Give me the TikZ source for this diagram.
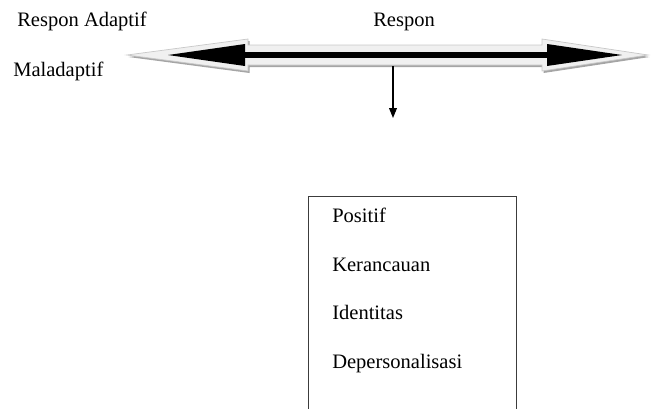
\documentclass[tikz,border=0pt]{standalone}
\usepackage{fontspec}
\setmainfont{Liberation Serif}
\usepackage{tikz}
\usetikzlibrary{arrows.meta, positioning, calc}
\definecolor{shaftgray}{RGB}{240, 240, 240}
\definecolor{edgegray}{RGB}{200, 200, 200}
\definecolor{shadowgray}{RGB}{165, 165, 165}
\definecolor{boxline}{RGB}{60, 60, 60}

\begin{document}
\begin{tikzpicture}[x=0.025cm, y=-0.025cm,
    lbl/.style={anchor=base west, inner sep=0pt, font=\fontsize{14.6}{17}\selectfont}]
  \useasboundingbox (0,0) rectangle (656,408);

  % Labels above the arrow
  \node[lbl] (adaptif) at (17,26) {Respon Adaptif};
  \node[lbl] (respon) at (373,26) {Respon};
  \node[lbl] (maladaptif) at (13,76) {Maladaptif};

  % Outer arrow (shadow, then body)
  \fill[shadowgray, shift={(1.5,2)}] (127,55) -- (248,39) -- (248,45) -- (542,45) -- (542,39) -- (648,55)
    -- (542,71) -- (542,65) -- (248,65) -- (248,71) -- cycle;
  \filldraw[fill=shaftgray, draw=edgegray, line width=0.5pt] (127,55) -- (248,39) -- (248,45) -- (542,45) -- (542,39) -- (648,55)
    -- (542,71) -- (542,65) -- (248,65) -- (248,71) -- cycle;

  % Inner black arrow
  \coordinate (lefthead) at (245,55);
  \coordinate (righthead) at (547,55);
  \draw[line width=4.3pt] (lefthead) -- (righthead);
  \fill (168,55) -- (245,44) -- (245,66) -- cycle;
  \fill (622,55) -- (547,44) -- (547,66) -- cycle;

  % Down arrow
  \coordinate (dropstart) at (393,66);
  \coordinate (dropend) at (393,118);
  \draw[-{Triangle[length=7pt, width=5.5pt]}, line width=0.8pt] (dropstart) -- (dropend);

  % Box (open at the bottom)
  \draw[boxline, line width=0.7pt] (308,412) |- (516,196) -- (516,412);

  % Box items
  \node[lbl] (positif) at (332,222) {Positif};
  \node[lbl] (kerancauan) at (332,271) {Kerancauan};
  \node[lbl] (identitas) at (332,319) {Identitas};
  \node[lbl] (depers) at (332,368) {Depersonalisasi};
\end{tikzpicture}
\end{document}
